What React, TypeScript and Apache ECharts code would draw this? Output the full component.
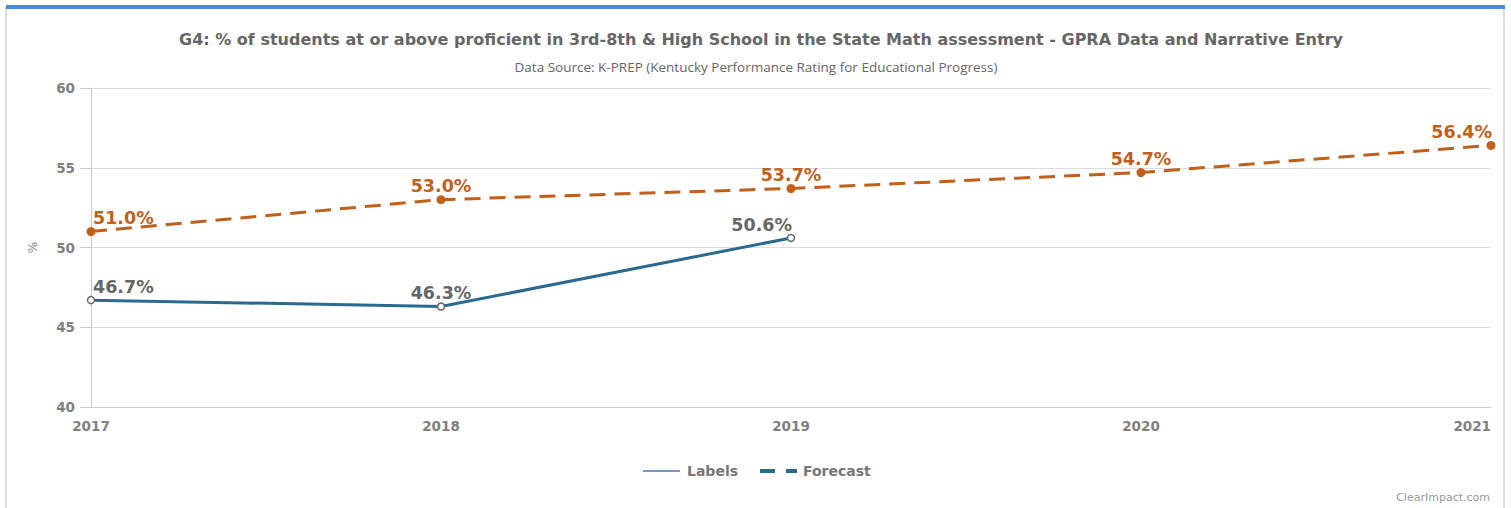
import React, { useEffect, useRef } from "react";
import * as echarts from "echarts";

const years = ["2017", "2018", "2019", "2020", "2021"];
const labelsSeries = [46.7, 46.3, 50.6];
const forecastSeries = [51.0, 53.0, 53.7, 54.7, 56.4];
const yTicks = { min: 40, max: 60, interval: 5 };

const TITLE =
  "G4: % of students at or above proficient in 3rd-8th & High School in the State Math assessment - GPRA Data and Narrative Entry";
const SUBTITLE = "Data Source: K-PREP (Kentucky Performance Rating for Educational Progress)";

const BLUE = "#2b6a8f";
const ORANGE = "#c0601b";
const LABEL_FONT = "DejaVu Sans";

function alignFor(i: number, n: number): "left" | "right" | "center" {
  if (i === 0) return "left";
  if (i === n - 1) return "right";
  return "center";
}

export default function App() {
  const ref = useRef<HTMLDivElement>(null);
  useEffect(() => {
    if (!ref.current) return;
    const chart = echarts.init(ref.current, null, { renderer: "svg" });
    const mkData = (arr: number[], total: number) =>
      arr.map((v, i) => ({
        value: v,
        label: {
          align: alignFor(i, total),
          offset: i === 0 ? [2, 0] : i === total - 1 ? [1, 0] : [0, 0],
        },
      }));
    chart.setOption({
      animation: false,
      backgroundColor: "#ffffff",
      title: [
        {
          text: TITLE,
          left: 756,
          top: 26,
          textAlign: "center",
          textStyle: { fontFamily: "DejaVu Sans", fontWeight: "bold", fontSize: 16, color: "#666666" },
        },
        {
          text: SUBTITLE,
          left: 751,
          top: 55,
          textAlign: "center",
          textStyle: { fontFamily: "Open Sans", fontWeight: "normal", fontSize: 13.5, color: "#666666" },
        },
      ],
      grid: { left: 91, right: 20, top: 88, bottom: 101, containLabel: false },
      xAxis: {
        type: "category",
        data: years,
        boundaryGap: false,
        axisLine: { show: true, lineStyle: { color: "#cccccc", width: 1 } },
        axisTick: { show: false },
        axisLabel: {
          margin: 12,
          fontFamily: LABEL_FONT,
          fontWeight: "bold",
          fontSize: 13.5,
          color: "#808080",
          alignMaxLabel: "right",
          alignMinLabel: "center",
        },
        splitLine: { show: false },
      },
      yAxis: {
        type: "value",
        min: yTicks.min,
        max: yTicks.max,
        interval: yTicks.interval,
        name: "%",
        nameLocation: "middle",
        nameGap: 52,
        nameRotate: 90,
        nameTextStyle: { fontFamily: LABEL_FONT, fontSize: 12, color: "#888888" },
        axisLine: { show: true, lineStyle: { color: "#cccccc", width: 1 } },
        axisTick: { show: true, length: 11, lineStyle: { color: "#cccccc" } },
        axisLabel: {
          margin: 16,
          fontFamily: LABEL_FONT,
          fontWeight: "bold",
          fontSize: 13.5,
          color: "#808080",
        },
        splitLine: { show: true, lineStyle: { color: "#dddddd", width: 1 } },
      },
      series: [
        {
          name: "Labels",
          type: "line",
          data: mkData(labelsSeries, labelsSeries.length),
          lineStyle: { color: BLUE, width: 3 },
          symbol: "circle",
          symbolSize: 7,
          itemStyle: { color: "#ffffff", borderColor: "#666666", borderWidth: 1.5 },
          label: {
            show: true,
            position: "top",
            distance: 0,
            formatter: (p: any) => p.value.toFixed(1) + "%",
            fontFamily: LABEL_FONT,
            fontWeight: "bold",
            fontSize: 17.5,
            color: "#666666",
          },
          z: 3,
        },
        {
          name: "Forecast",
          type: "line",
          data: mkData(forecastSeries, forecastSeries.length),
          lineStyle: { color: ORANGE, width: 3, type: [16, 9] },
          symbol: "circle",
          symbolSize: 9,
          itemStyle: { color: ORANGE },
          label: {
            show: true,
            position: "top",
            distance: 0,
            formatter: (p: any) => p.value.toFixed(1) + "%",
            fontFamily: LABEL_FONT,
            fontWeight: "bold",
            fontSize: 17.5,
            color: ORANGE,
          },
          z: 4,
        },
      ],
      graphic: [
        {
          type: "rect",
          shape: { x: 6, y: 8, width: 1498, height: 520 },
          style: { fill: "none", stroke: "#dddddd", lineWidth: 2 },
          silent: true,
          z: -10,
        },
        {
          type: "rect",
          shape: { x: 6, y: 5, width: 1499, height: 4 },
          style: { fill: "#4a89dc" },
          silent: true,
        },
        {
          type: "line",
          shape: { x1: 643, y1: 471, x2: 680, y2: 471 },
          style: { stroke: "#7399c6", lineWidth: 2 },
        },
        {
          type: "text",
          x: 687,
          y: 471,
          style: {
            text: "Labels",
            fontFamily: LABEL_FONT,
            fontWeight: "bold",
            fontSize: 14,
            fill: "#777777",
            verticalAlign: "middle",
            align: "left",
          },
        },
        {
          type: "line",
          shape: { x1: 760, y1: 471, x2: 797, y2: 471 },
          style: { stroke: BLUE, lineWidth: 4, lineDash: [15, 11] },
        },
        {
          type: "text",
          x: 803,
          y: 471,
          style: {
            text: "Forecast",
            fontFamily: LABEL_FONT,
            fontWeight: "bold",
            fontSize: 14,
            fill: "#777777",
            verticalAlign: "middle",
            align: "left",
          },
        },
        {
          type: "text",
          x: 1490,
          y: 497,
          style: {
            text: "ClearImpact.com",
            fontFamily: LABEL_FONT,
            fontSize: 11,
            fill: "#999999",
            verticalAlign: "middle",
            align: "right",
          },
        },
      ],
    });
    return () => chart.dispose();
  }, []);
  return (
    <div
      ref={ref}
      style={{ position: "absolute", left: 0, top: 0, width: 1511, height: 508 }}
    />
  );
}
